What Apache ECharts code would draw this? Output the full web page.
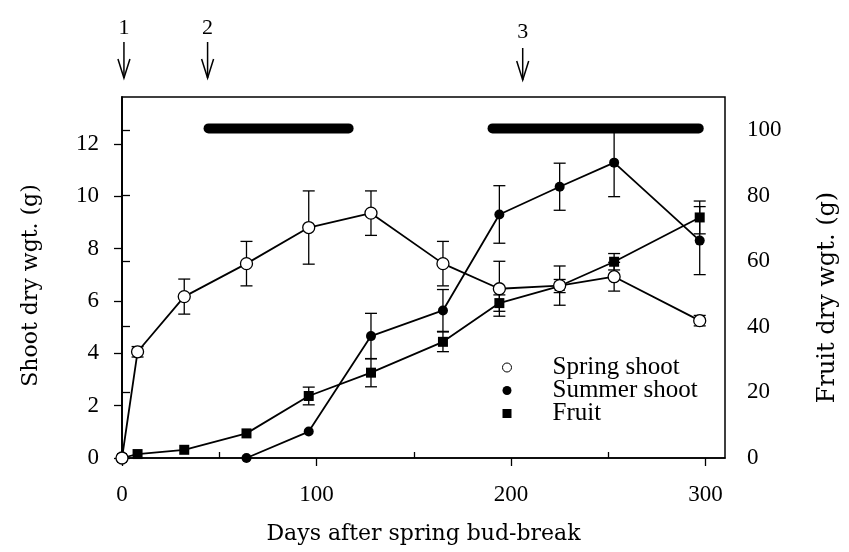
<!DOCTYPE html>
<html>
<head>
<meta charset="utf-8">
<script src="https://cdn.jsdelivr.net/npm/echarts@6/dist/echarts.min.js"></script>
<style>
  html, body { margin: 0; background: #fff; }
  #main { width: 849px; height: 552px; }
</style>
</head>
<body>
<div id="main"></div>
<script>
// values
const days = [0, 8, 32, 64, 96, 128, 165, 194, 225, 253, 297]
const springShoot = [0, 4.06, 6.17, 7.43, 8.81, 9.36, 7.43, 6.47, 6.59, 6.93, 5.25]
const springErr = [0, 0.2, 0.67, 0.85, 1.4, 0.85, 0.85, 1.05, 0.75, 0.55, 0.2]
const summerDays = [64, 96, 128, 165, 194, 225, 253, 297]
const summerShoot = [0, 1.01, 4.66, 5.64, 9.31, 10.37, 11.29, 8.31]
const summerErr = [0, 0, 0.87, 0.8, 1.1, 0.9, 1.3, 1.3]
const fruit = [0, 1.2, 2.5, 7.5, 18.9, 26.0, 35.4, 47.2, 52.4, 59.8, 73.3]
const fruitErr = [0, 0, 0, 0, 2.7, 4.3, 3, 2.5, 2, 2.5, 5]

const arrowDays = [1, 44, 206]
const arrowLabels = ['1', '2', '3']
const period1 = [44.5, 116.5]
const period2 = [190.5, 296.5]
const periodLevel = 12.6

const dayTicks = [0, 100, 200, 300]
const dayMinorTicks = [50, 150, 250]
const shootTicks = [0, 2, 4, 6, 8, 10, 12]
const fruitTicks = [0, 20, 40, 60, 80, 100]

const labelFont = { color: '#000', fontFamily: 'Liberation Serif', fontSize: 23 }
const black = '#000'

function pairs (xs, ys) {
  return xs.map((x, i) => [x, ys[i]])
}

function errorBars (xs, ys, es, yAxisIndex) {
  return {
    type: 'custom',
    yAxisIndex: yAxisIndex,
    silent: true,
    z: 1,
    data: xs.map((x, i) => [x, ys[i] - es[i], ys[i] + es[i]]).filter(d => d[2] > d[1]),
    renderItem: (params, api) => {
      const lo = api.coord([api.value(0), api.value(1)])
      const hi = api.coord([api.value(0), api.value(2)])
      const w = 6
      const style = { stroke: black, lineWidth: 1.3 }
      return {
        type: 'group',
        children: [
          { type: 'line', shape: { x1: lo[0], y1: lo[1], x2: hi[0], y2: hi[1] }, style: style },
          { type: 'line', shape: { x1: hi[0] - w, y1: hi[1], x2: hi[0] + w, y2: hi[1] }, style: style },
          { type: 'line', shape: { x1: lo[0] - w, y1: lo[1], x2: lo[0] + w, y2: lo[1] }, style: style }
        ]
      }
    }
  }
}

function periodBar (range) {
  return {
    type: 'line',
    silent: true,
    symbol: 'none',
    z: 2,
    data: [[range[0], periodLevel], [range[1], periodLevel]],
    lineStyle: { color: black, width: 10, cap: 'round' }
  }
}

const chart = echarts.init(document.getElementById('main'))

chart.setOption({
  animation: false,
  backgroundColor: '#fff',
  grid: { left: 122, right: 124, top: 97, bottom: 94, show: true, borderColor: black, borderWidth: 1.5 },
  legend: {
    orient: 'vertical',
    left: 497,
    top: 350,
    itemWidth: 9,
    itemHeight: 9,
    itemGap: -2,
    selectedMode: false,
    textStyle: { color: black, fontFamily: 'Liberation Serif', fontSize: 25, lineHeight: 22, padding: [0, 0, 0, 36] },
    lineStyle: { opacity: 0 },
    data: [
      { name: 'Spring shoot', icon: 'circle', itemStyle: { color: '#fff', borderColor: black, borderWidth: 1 } },
      { name: 'Summer shoot', icon: 'circle', itemStyle: { color: black } },
      { name: 'Fruit', icon: 'rect', itemStyle: { color: black } }
    ]
  },
  xAxis: [{
    type: 'value',
    min: 0,
    max: 310,
    position: 'bottom',
    name: 'Days after spring bud-break',
    nameLocation: 'middle',
    nameGap: 65,
    nameTextStyle: { color: black, fontFamily: 'DejaVu Serif', fontSize: 22 },
    splitLine: { show: false },
    axisLine: { lineStyle: { color: black, width: 1.5 } },
    axisTick: { inside: false, length: 8, customValues: dayTicks, lineStyle: { color: black, width: 1.3 } },
    axisLabel: Object.assign({ margin: 25, customValues: dayTicks }, labelFont)
  }, {
    type: 'value',
    min: 0,
    max: 310,
    position: 'bottom',
    splitLine: { show: false },
    axisLine: { show: false },
    axisTick: { inside: true, length: 6, customValues: dayMinorTicks, lineStyle: { color: black, width: 1.3 } },
    axisLabel: { show: false }
  }],
  yAxis: [{
    type: 'value',
    min: 0,
    max: 13.8,
    position: 'left',
    name: 'Shoot dry wgt. (g)',
    nameLocation: 'middle',
    nameGap: 80,
    nameTextStyle: { color: black, fontFamily: 'DejaVu Serif', fontSize: 22, padding: [0, 16, 0, 0] },
    splitLine: { show: false },
    axisLine: { show: true, lineStyle: { color: black, width: 1.5 } },
    axisTick: { show: true, length: 8, customValues: shootTicks, lineStyle: { color: black, width: 1.3 } },
    axisLabel: Object.assign({ margin: 23, customValues: shootTicks }, labelFont)
  }, {
    type: 'value',
    min: 0,
    max: 110,
    position: 'right',
    name: 'Fruit dry wgt. (g)',
    nameLocation: 'middle',
    nameGap: 91,
    nameRotate: 90,
    nameTextStyle: { color: black, fontFamily: 'DejaVu Serif', fontSize: 24, padding: [0, 40, 0, 0] },
    splitLine: { show: false },
    axisLine: { show: true, lineStyle: { color: black, width: 1.5 } },
    axisTick: { show: true, length: 8, customValues: fruitTicks, lineStyle: { color: black, width: 1.3 } },
    axisLabel: Object.assign({ margin: 22, customValues: fruitTicks }, labelFont)
  }],
  series: [
    periodBar(period1),
    periodBar(period2),
    errorBars(days, springShoot, springErr, 0),
    errorBars(summerDays, summerShoot, summerErr, 0),
    errorBars(days, fruit, fruitErr, 1),
    {
      name: 'Fruit',
      type: 'line',
      yAxisIndex: 1,
      z: 3,
      data: pairs(days, fruit),
      symbol: 'rect',
      symbolSize: 10,
      itemStyle: { color: black },
      lineStyle: { color: black, width: 1.8 }
    },
    {
      name: 'Summer shoot',
      type: 'line',
      z: 4,
      data: pairs(summerDays, summerShoot),
      symbol: 'circle',
      symbolSize: 10,
      itemStyle: { color: black },
      lineStyle: { color: black, width: 1.8 }
    },
    {
      name: 'Spring shoot',
      type: 'line',
      z: 5,
      data: pairs(days, springShoot),
      symbol: 'circle',
      symbolSize: 12,
      itemStyle: { color: '#fff', borderColor: black, borderWidth: 1.3 },
      lineStyle: { color: black, width: 1.8 }
    }
  ]
})

// event arrows above the plot, placed through the x scale
const arrowTop = [42, 42, 48]
const arrowBottom = [78, 78, 80]
const labelY = [28, 28, 32]
const graphics = []
arrowDays.forEach((d, i) => {
  const x = chart.convertToPixel({ xAxisIndex: 0 }, d)
  graphics.push({
    type: 'text',
    x: x,
    y: labelY[i],
    style: { text: arrowLabels[i], fill: black, font: '22px "Liberation Serif"', align: 'center', verticalAlign: 'middle' }
  })
  graphics.push({
    type: 'line',
    shape: { x1: x, y1: arrowTop[i], x2: x, y2: arrowBottom[i] },
    style: { stroke: black, lineWidth: 1.5 }
  })
  graphics.push({
    type: 'polyline',
    shape: { points: [[x - 6, arrowBottom[i] - 19], [x, arrowBottom[i]], [x + 6, arrowBottom[i] - 19]] },
    style: { stroke: black, lineWidth: 1.5, fill: null }
  })
})
chart.setOption({ graphic: graphics })
</script>
</body>
</html>
